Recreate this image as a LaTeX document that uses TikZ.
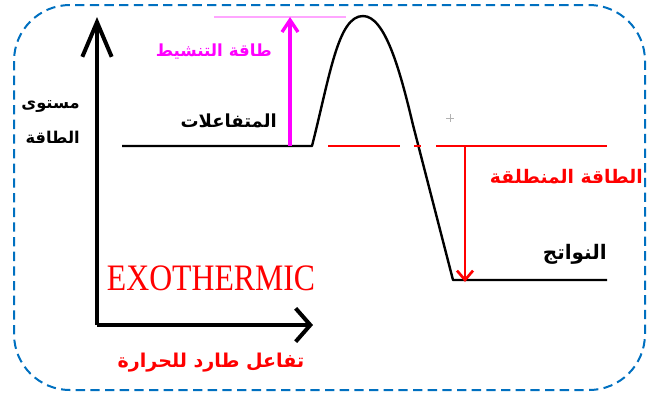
\documentclass[tikz,border=0pt]{standalone}
\usepackage{fontspec}
\setmainfont{Liberation Serif}
\newfontfamily\arabicfont[Script=Arabic]{DejaVu Sans}
\TeXXeTstate=1
\usetikzlibrary{arrows.meta,calc}
\definecolor{frameblue}{RGB}{0,112,192}
\definecolor{magC}{RGB}{255,0,255}
\definecolor{redC}{RGB}{255,0,0}
\newcommand{\arsz}[1]{\arabicfont\bfseries\fontsize{#1}{#1}\selectfont}
\begin{document}
\begin{tikzpicture}[x=0.75pt,y=-0.75pt,
  yaxis/.style={line width=2.3pt,-{Straight Barb[length=26pt,width=22pt,line width=3pt]}},
  xaxis/.style={line width=2.3pt,-{Straight Barb[length=11pt,width=25pt,line width=3pt]}},
  curve/.style={line width=1.8pt,black},
  artext/.style={inner sep=0pt},
  magarrow/.style={line width=2.3pt,magC,-{Straight Barb[length=9pt,width=12pt,line width=2.5pt]}},
  redarrow/.style={line width=1.2pt,redC,-{Straight Barb[length=7pt,width=12pt,line width=2pt]}},
  redline/.style={line width=1.2pt,redC}]
\useasboundingbox (0,0) rectangle (649,394);
% frame
\draw[frameblue,line width=1.5pt,dash pattern=on 7pt off 4pt,rounded corners=42pt] (14,5) rectangle (645,390);
% axes
\coordinate (O) at (97,325);
\coordinate (Ytop) at (97,17);
\coordinate (Xend) at (313,325);
\draw[yaxis] (O) -- (Ytop);
\draw[xaxis] (O) -- (Xend);
% energy curve
\coordinate (r0) at (122,146);
\coordinate (r1) at (312,146);
\coordinate (peak) at (363,16);
\coordinate (m) at (413,125);
\coordinate (p0) at (453,280);
\coordinate (p1) at (607,280);
\draw[curve,line join=round] (r0) -- (r1) .. controls (330,75) and (338,16) .. (peak)
   .. controls (385,16) and (400,70) .. (m) -- (p0) -- (p1);
% activation energy
\coordinate (ta) at (214,17);
\coordinate (tb) at (346,17);
\draw[magC!35,line width=1.2pt] (ta) -- (tb);
\coordinate (ma0) at (290,146);
\coordinate (ma1) at (290,17);
\draw[magarrow] (ma0) -- (ma1);
\node[artext,text=magC,anchor=east,font=\arsz{12.5}] (act) at (272,52) {\beginR طاقة التنشيط\endR};
% released energy
\coordinate (d1) at (328,146); \coordinate (d2) at (400,146);
\coordinate (d3) at (414,146); \coordinate (d4) at (421,146);
\coordinate (d5) at (436,146); \coordinate (d6) at (607,146);
\draw[redline] (d1) -- (d2);
\draw[redline] (d3) -- (d4);
\draw[redline] (d5) -- (d6);
\coordinate (ra0) at (465,146);
\coordinate (ra1) at (465,282);
\draw[redarrow] (ra0) -- (ra1);
\node[artext,text=redC,anchor=east,font=\arsz{14}] (rel) at (643,177) {\beginR الطاقة المنطلقة\endR};
% labels
\node[artext,anchor=east,font=\arsz{13.5}] (reac) at (277,121) {\beginR المتفاعلات\endR};
\node[artext,anchor=east,font=\arsz{15}] (prod) at (607,254) {\beginR النواتج\endR};
\node[artext,anchor=east,align=right,font=\arsz{12.2}] (ylab1) at (80,107) {\beginR مستوى\endR};
\node[artext,anchor=east,align=right,font=\arsz{12.2}] (ylab2) at (80,137) {\beginR الطاقة\endR};
\node[inner sep=0pt,text=redC,font=\fontsize{28}{30}\selectfont,xscale=0.85] (exo) at (211,278) {EXOTHERMIC};
\node[artext,text=redC,font=\arsz{14.3}] (xlab) at (211,363) {\beginR تفاعل طارد للحرارة\endR};
% small cursor mark
\coordinate (cm) at (450,118);
\draw[gray!60,line width=0.4pt] ($(cm)+(-4,0)$) -- ($(cm)+(4,0)$) ($(cm)+(0,-4)$) -- ($(cm)+(0,4)$);
\end{tikzpicture}
\end{document}
